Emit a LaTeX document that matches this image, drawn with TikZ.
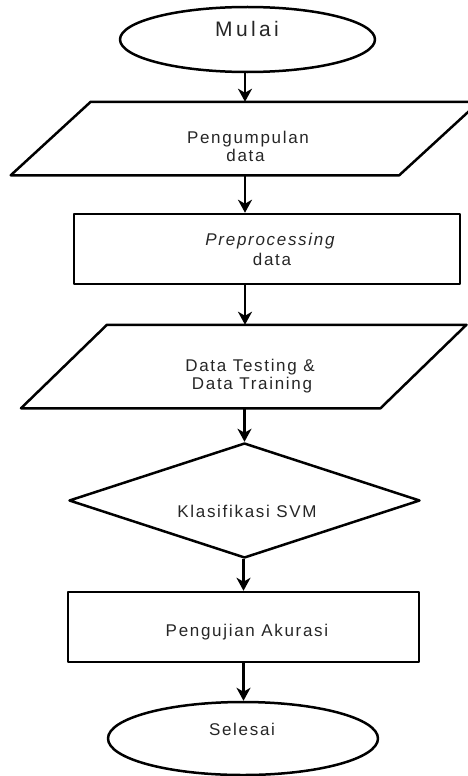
\documentclass[tikz,border=0pt]{standalone}
\usepackage{fontspec}
\setmainfont{Liberation Sans}[LetterSpace=10]
\usetikzlibrary{arrows.meta,shapes.geometric,calc}
\begin{document}
\begin{tikzpicture}[x=1pt,y=-1pt,
  shp/.style={draw=black, line width=2.5pt, line join=round},
  term/.style={shp, ellipse, inner sep=0pt},
  procbox/.style={shp, rectangle, inner sep=0pt},
  decis/.style={shp, diamond, inner sep=0pt},
  anchorbox/.style={rectangle, draw=none, inner sep=0pt, outer sep=1.25pt},
  arr/.style={line width=2.5pt, -{Stealth[length=13pt,width=14pt,inset=4pt]}},
  txt/.style={text=black!85, font=\fontsize{17}{19}\selectfont, inner sep=0pt, anchor=base}]
\useasboundingbox (0,0) rectangle (468,776);

% shapes
\node[term, minimum width=255pt, minimum height=65pt] (mulai) at (247.5,39.5) {};
\node[anchorbox, minimum width=386pt, minimum height=71pt] (kumpul) at (245,138.5) {};
\draw[shp] ($(kumpul.north west)+(40,0)$) -- ($(kumpul.north east)+(40,0)$)
  -- ($(kumpul.south east)+(-40,0)$) -- ($(kumpul.south west)+(-40,0)$) -- cycle;
\node[procbox, minimum width=386pt, minimum height=70pt] (prep) at (267,249) {};
\node[anchorbox, minimum width=357pt, minimum height=81pt] (dtt) at (243.75,366.5) {};
\draw[shp] ($(dtt.north west)+(43,0)$) -- ($(dtt.north east)+(43,0)$)
  -- ($(dtt.south east)+(-43,0)$) -- ($(dtt.south west)+(-43,0)$) -- cycle;
\node[decis, minimum width=351pt, minimum height=115pt] (svm) at (244.5,500.5) {};
\node[procbox, minimum width=351pt, minimum height=70pt] (uji) at (243.5,627) {};
\node[term, minimum width=270pt, minimum height=73pt] (selesai) at (243,738.5) {};

% texts
\node[txt] (tmulai) at (247,37) {\fontsize{21}{23}\selectfont\addfontfeature{LetterSpace=16}Mulai};
\node[txt] (tkumpul1) at (248,143) {Pengumpulan};
\node[txt] (tkumpul2) at (245.5,161.5) {data};
\node[txt] (tprep1) at (270,245) {\itshape Preprocessing};
\node[txt] (tprep2) at (272,265) {data};
\node[txt] (tdtt1) at (250,371) {Data Testing \&};
\node[txt] (tdtt2) at (252,389) {Data Training};
\node[txt] (tsvm) at (247,517) {Klasifikasi SVM};
\node[txt] (tuji) at (247,636) {Pengujian Akurasi};
\node[txt] (tselesai) at (242,735) {Selesai};

% connectors
\draw[arr] (kumpul.north |- mulai.south) -- (kumpul.north);
\draw[arr] (kumpul.south) -- (kumpul.south |- prep.north);
\draw[arr] (kumpul.south |- prep.south) -- (kumpul.south |- dtt.north);
\draw[arr] (svm.north |- dtt.south) -- (svm.north);
\draw[arr] (uji.north |- svm.south) -- (uji.north);
\draw[arr] (uji.south) -- (uji.south |- selesai.north);
\end{tikzpicture}
\end{document}
